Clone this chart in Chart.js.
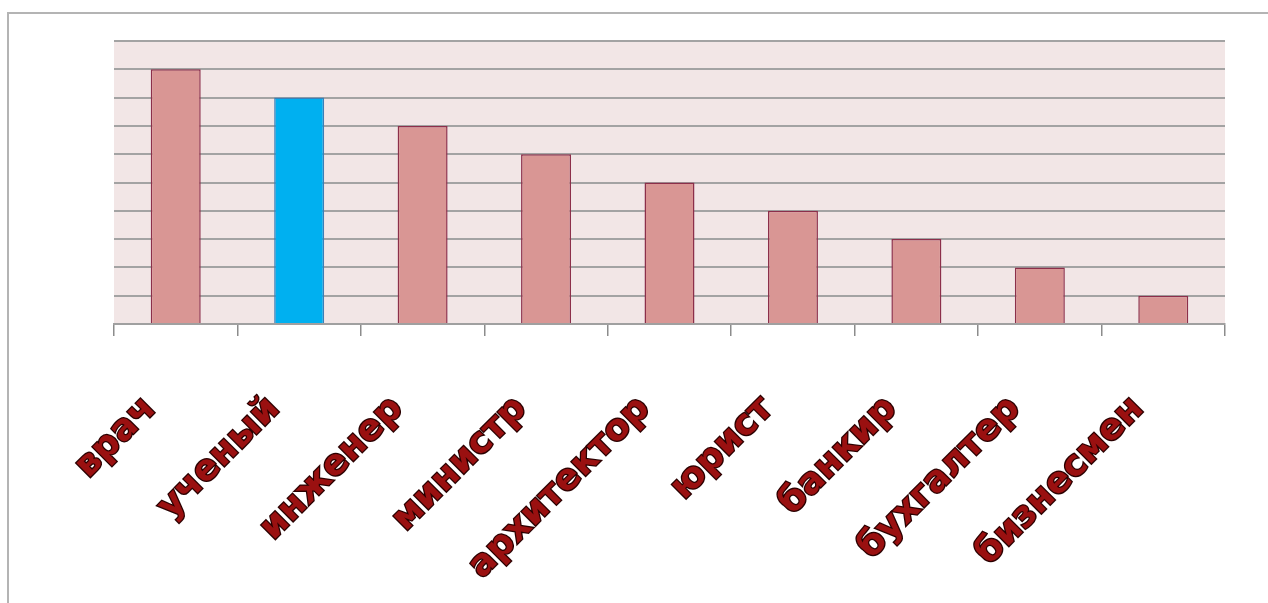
<!DOCTYPE html>
<html>
<head>
<meta charset="utf-8">
<script src="https://cdn.jsdelivr.net/npm/chart.js@4"></script>
<style>
  html, body { margin: 0; padding: 0; background: #ffffff; overflow: hidden; }
  #wrap { position: relative; width: 1268px; height: 603px; }
  #frame { position: absolute; left: 7px; top: 12px; width: 1300px; height: 700px;
           border-left: 2px solid #b4b4b4; border-top: 2px solid #b4b4b4; }
  canvas { position: absolute; left: 0; top: 0; }
</style>
</head>
<body>
<div id="wrap">
  <div id="frame"></div>
  <canvas id="c" width="1268" height="603"></canvas>
</div>
<script>
const categories = ["врач", "ученый", "инженер", "министр", "архитектор", "юрист", "банкир", "бухгалтер", "бизнесмен"];
const values = [9, 8, 7, 6, 5, 4, 3, 2, 1];
const highlightIndex = 1;
const yMin = 0;
const yMax = 10;

const barColors = categories.map((c, i) => i === highlightIndex ? '#00b0f0' : '#d99694');
const barBorders = categories.map((c, i) => i === highlightIndex ? '#3a7fb8' : '#8c2f4a');

const plotBg = {
  id: 'plotBg',
  beforeDraw(chart) {
    const { ctx, chartArea } = chart;
    ctx.save();
    ctx.fillStyle = '#f2e6e6';
    ctx.fillRect(chartArea.left, chartArea.top, chartArea.right - chartArea.left, chartArea.bottom - chartArea.top);
    ctx.restore();
  }
};

new Chart(document.getElementById('c'), {
  type: 'bar',
  data: {
    labels: categories,
    datasets: [{
      data: values,
      backgroundColor: barColors,
      borderColor: barBorders,
      borderWidth: 1.5,
      borderSkipped: 'bottom',
      categoryPercentage: 1,
      barPercentage: 0.405
    }]
  },
  options: {
    responsive: false,
    animation: false,
    devicePixelRatio: 1,
    layout: { padding: { left: 114, right: 43, top: 41, bottom: 0 } },
    plugins: { legend: { display: false }, tooltip: { enabled: false } },
    scales: {
      x: {
        grid: { display: true, drawOnChartArea: false, drawTicks: true, tickLength: 12, color: '#8c8c8c', lineWidth: 1.5, offset: true },
        border: { display: true, color: '#a0a0a0', width: 2 },
        ticks: {
          autoSkip: false,
          maxRotation: 45,
          minRotation: 45,
          padding: 52,
          labelOffset: -25,
          color: '#9a1010',
          textStrokeColor: '#2a0000',
          textStrokeWidth: 2.5,
          font: { family: '"DejaVu Sans"', size: 36, weight: 'bold' }
        },
        afterFit(scale) { scale.height = 279; }
      },
      y: {
        min: yMin,
        max: yMax,
        ticks: { display: false, stepSize: 1 },
        grid: { color: '#a3a3a3', lineWidth: 2, drawTicks: false },
        border: { display: false },
        afterFit(scale) { scale.width = 0; }
      }
    }
  },
  plugins: [plotBg]
});
</script>
</body>
</html>
